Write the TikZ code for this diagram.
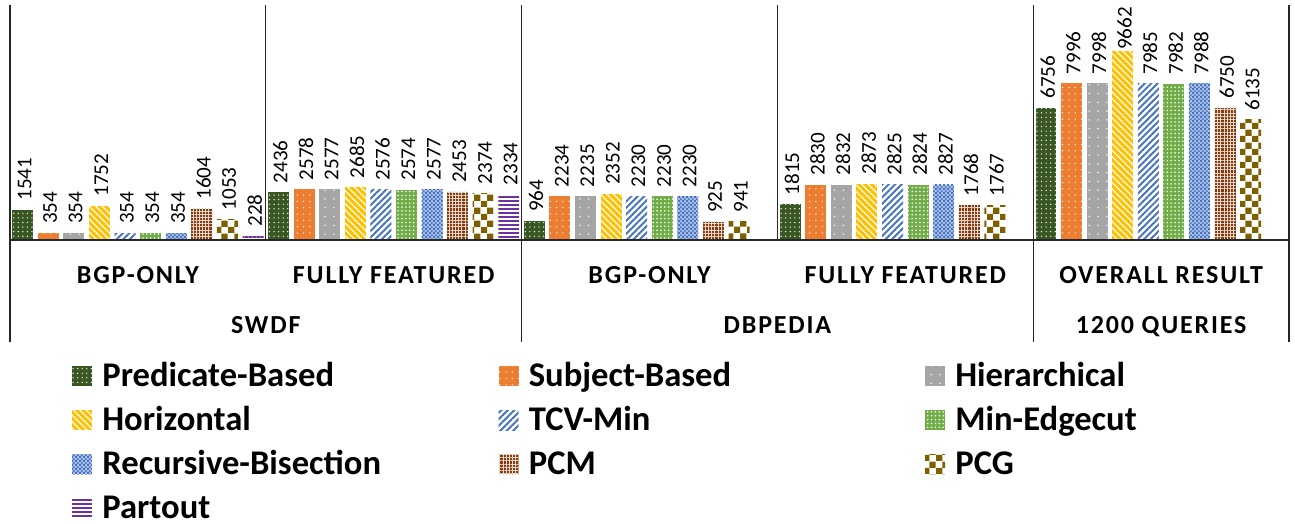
\documentclass[tikz,border=0pt]{standalone}
\usepackage{fontspec}
\setmainfont{Carlito}
\usepackage{tikz}
\usetikzlibrary{positioning}
\usetikzlibrary{patterns}
\usetikzlibrary{patterns.meta}

\definecolor{predicategreen}{HTML}{385723}
\definecolor{subjectorange}{HTML}{ED7D31}
\definecolor{hierarchygray}{HTML}{A5A5A5}
\definecolor{horizontalgold}{HTML}{FFC000}
\definecolor{tcvblue}{HTML}{4472C4}
\definecolor{edgecutgreen}{HTML}{70AD47}
\definecolor{bisectionblue}{HTML}{4472C4}
\definecolor{pcmbrown}{HTML}{843C0C}
\definecolor{pcgolive}{HTML}{7F6000}
\definecolor{partoutpurple}{HTML}{7030A0}

% Checker patterns, one coarse and one fine
\pgfdeclarepatternformonly{big checker}{\pgfpointorigin}{\pgfqpoint{7.2pt}{7.2pt}}{\pgfqpoint{7.2pt}{7.2pt}}{%
    \pgfpathrectangle{\pgfpointorigin}{\pgfqpoint{3.6pt}{3.6pt}}%
    \pgfpathrectangle{\pgfqpoint{3.6pt}{3.6pt}}{\pgfqpoint{3.6pt}{3.6pt}}%
    \pgfusepath{fill}}
\pgfdeclarepatternformonly{fine checker}{\pgfpointorigin}{\pgfqpoint{2.4pt}{2.4pt}}{\pgfqpoint{2.4pt}{2.4pt}}{%
    \pgfpathrectangle{\pgfpointorigin}{\pgfqpoint{1.2pt}{1.2pt}}%
    \pgfpathrectangle{\pgfqpoint{1.2pt}{1.2pt}}{\pgfqpoint{1.2pt}{1.2pt}}%
    \pgfusepath{fill}}

% Bar number -> partitioning method
\newcommand{\methodstyle}[1]{\ifcase#1\or predicate\or subject\or hierarchical\or
    horizontal\or tcvmin\or edgecut\or bisection\or pcm\or pcg\or partout\fi}

\tikzset{
    % A bar stands on the axis, its height set per value
    bar/.style={anchor=south, inner sep=0, outer sep=0, minimum width=0.42cm},
%
    % Legend sample square
    swatch/.style={inner sep=0, outer sep=0, minimum size=0.4cm},
%
    % Text styles
    value/.style={rotate=90, anchor=west, inner sep=0, inner xsep=5pt,
        font=\fontsize{12}{14}\selectfont},
    group label/.style={anchor=base, inner sep=0,
        font=\fontsize{14.8}{17}\selectfont\bfseries\addfontfeatures{LetterSpace=7}},
    legend label/.style={inner sep=0, font=\fontsize{19.7}{23}\selectfont\bfseries},
    axis/.style={draw=black!85, line width=0.6pt},
%
    % One fill per method: the colour below, a pattern over it
    predicate/.style={fill=predicategreen,
        postaction={pattern={Dots[distance=2.6pt, radius=0.4pt]}, pattern color=white}},
    subject/.style={fill=subjectorange,
        postaction={pattern={Dots[distance=3.6pt, radius=0.4pt]}, pattern color=white}},
    hierarchical/.style={fill=hierarchygray,
        postaction={pattern={Dots[distance=5pt, radius=0.45pt]}, pattern color=white}},
    horizontal/.style={fill=horizontalgold,
        postaction={pattern={Lines[angle=-45, distance=2.6pt, line width=0.7pt]}, pattern color=white}},
    tcvmin/.style={fill=white,
        postaction={pattern={Lines[angle=45, distance=2.6pt, line width=1.1pt]}, pattern color=tcvblue}},
    edgecut/.style={fill=edgecutgreen,
        postaction={pattern={Dots[distance=2.2pt, radius=0.5pt]}, pattern color=white}},
    bisection/.style={fill=bisectionblue!45!white,
        postaction={pattern=fine checker, pattern color=bisectionblue}},
    pcm/.style={fill=pcmbrown,
        postaction={pattern={Hatch[distance=1.8pt, line width=0.35pt]}, pattern color=white!80!pcmbrown}},
    pcg/.style={fill=white, postaction={pattern=big checker, pattern color=pcgolive}},
    partout/.style={fill=white,
        postaction={pattern={Lines[angle=0, distance=2.3pt, line width=1.1pt]}, pattern color=partoutpurple}}}

\begin{document}
\begin{tikzpicture}[x=0.02cm, y=-0.02cm]

\useasboundingbox (0,0) rectangle (1295,524);

% Bars and their values, one list per group
\foreach \vals [count=\g] in {
        {1541,354,354,1752,354,354,354,1604,1053,228},
        {2436,2578,2577,2685,2576,2574,2577,2453,2374,2334},
        {964,2234,2235,2352,2230,2230,2230,925,941},
        {1815,2830,2832,2873,2825,2824,2827,1768,1767},
        {6756,7996,7998,9662,7985,7982,7988,6750,6135}} {
    \foreach \v [count=\i] in \vals {
        \node (bar-\g-\i) [bar, \methodstyle{\i}, minimum height={\v*0.011153pt}]
            at ({10+(\g-1)*255.8+(\i-0.5)*25.58}, 240) {};
        % the tallest value sits right on its bar, as there is no room above
        \pgfmathsetmacro\gap{\v>9000 ? 0.3 : 5}
        \node (val-\g-\i) [value, inner xsep=\gap pt] at ([xshift=1pt]bar-\g-\i.north) {\v};
    }
}

% Axis and the category separators
\draw[axis] (10,240) -- (1289,240);
\foreach \x in {10,265.8,521.6,777.4,1033.2,1289}
    \draw[axis] (\x,5) -- (\x,240);
\foreach \x in {10,521.6,1033.2,1289}
    \draw[axis] (\x,240) -- (\x,342);

% Category labels
\node (cat-1) [group label] at (137.9,283) {BGP-ONLY};
\node (cat-2) [group label] at (393.7,283) {FULLY FEATURED};
\node (cat-3) [group label] at (649.5,283) {BGP-ONLY};
\node (cat-4) [group label] at (905.3,283) {FULLY FEATURED};
\node (cat-5) [group label] at (1161.1,283) {OVERALL RESULT};
\node (set-1) [group label] at (265.8,333) {SWDF};
\node (set-2) [group label] at (777.4,333) {DBPEDIA};
\node (set-3) [group label] at (1161.1,333) {1200 QUERIES};

% Legend, three columns
\foreach \name [count=\i] in {Predicate-Based, Subject-Based, Hierarchical,
        Horizontal, TCV-Min, Min-Edgecut, Recursive-Bisection, PCM, PCG, Partout} {
    \pgfmathtruncatemacro\col{mod(\i-1,3)}
    \pgfmathtruncatemacro\row{(\i-1)/3}
    \node (swatch-\i) [swatch, \methodstyle{\i}] at ({82+\col*426.5}, {376+\row*44}) {};
    \node (legend-\i) [legend label, right=0.2cm of swatch-\i.south east, anchor=base west] {\name};
}

\end{tikzpicture}
\end{document}
